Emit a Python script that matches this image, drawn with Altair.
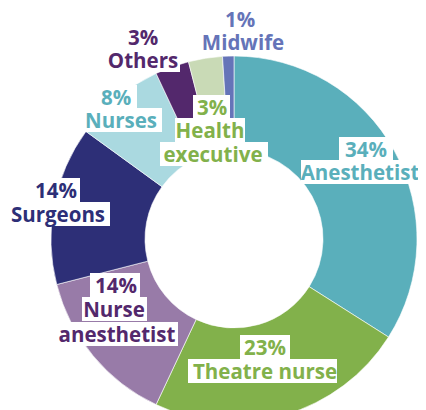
import altair as alt
import pandas as pd

# ---- data ----
categories = ["Anesthetist", "Theatre nurse", "Nurse anesthetist", "Surgeons",
              "Nurses", "Others", "Health executive", "Midwife"]
values = [34, 23, 14, 14, 8, 3, 3, 1]
slice_colors = ["#5AAFBB", "#82B14B", "#987BA8", "#2D2F77",
                "#AAD9E0", "#53286C", "#C9DAB6", "#6574B8"]
text_colors = ["#5AAFBB", "#82B14B", "#53286C", "#2D2F77",
               "#5AAFBB", "#53286C", "#82B14B", "#6574B8"]
name_lines = {
    "Anesthetist": ["Anesthetist"],
    "Theatre nurse": ["Theatre nurse"],
    "Nurse anesthetist": ["Nurse", "anesthetist"],
    "Surgeons": ["Surgeons"],
    "Nurses": ["Nurses"],
    "Others": ["Others"],
    "Health executive": ["Health", "executive"],
    "Midwife": ["Midwife"],
}

# ---- layout (page pixels): per line (center x, baseline y, box left, box right) ----
PAGE_OFF = 8
label_layout = {
    "Anesthetist": [(366, 157, 339, 393), (360, 180, 301, 426)],
    "Theatre nurse": [(265, 355, 240, 290), (265, 379, 188, 337)],
    "Nurse anesthetist": [(116, 293, 90, 140), (114, 317, 82, 147), (117, 342, 58, 178)],
    "Surgeons": [(56, 198, 32, 80), (58, 222, 5, 110)],
    "Nurses": [(116, 105, 97, 137), (121, 128, 85, 162)],
    "Others": [(143, 45, 125, 162), (143, 68, 108, 180)],
    "Health executive": [(212, 115, 193, 230), (210, 138, 175, 245), (213, 162, 160, 268)],
    "Midwife": [(240, 27, 225, 256), (243, 50, 197, 285)],
}
CENTER_X, CENTER_Y = 234, 239
R_OUT, R_IN = 183, 89
W, H = 410, 402

df = pd.DataFrame({"category": categories, "value": values,
                   "idx": list(range(len(categories)))})

rows = []
for cat, v, tc in zip(categories, values, text_colors):
    lines = [f"{v}%"] + name_lines[cat]
    for txt, (cx, bl, x0, x1) in zip(lines, label_layout[cat]):
        rows.append({
            "text": txt, "tcolor": tc,
            "cx": cx - PAGE_OFF, "bl": bl - PAGE_OFF,
            "x0": x0 - PAGE_OFF, "x1": x1 - PAGE_OFF,
            "y0": bl - 20 - PAGE_OFF, "y1": bl + 4 - PAGE_OFF,
        })
lab = pd.DataFrame(rows)

arc = alt.Chart(df).mark_arc(innerRadius=R_IN, outerRadius=R_OUT,
                             stroke="white", strokeWidth=0.6).encode(
    theta=alt.Theta("value:Q", stack=True),
    order=alt.Order("idx:Q"),
    color=alt.Color("category:N", scale=alt.Scale(domain=categories, range=slice_colors),
                    legend=None),
    x=alt.value(CENTER_X - PAGE_OFF),
    y=alt.value(CENTER_Y - PAGE_OFF),
)

boxes = alt.Chart(lab).mark_rect(color="white").encode(
    x=alt.X("x0:Q", scale=None, axis=None),
    x2="x1:Q",
    y=alt.Y("y0:Q", scale=None, axis=None),
    y2="y1:Q",
)

texts = alt.Chart(lab).mark_text(font="Open Sans", fontWeight="bold", fontSize=20.5,
                                 align="center", baseline="alphabetic").encode(
    x=alt.X("cx:Q", scale=None, axis=None),
    y=alt.Y("bl:Q", scale=None, axis=None),
    text="text:N",
    color=alt.Color("tcolor:N", scale=None),
)

chart = alt.layer(arc, boxes, texts).resolve_scale(color="independent").properties(
    width=W, height=H, padding=0,
    autosize=alt.AutoSizeParams(type="none"),
).configure_view(strokeWidth=0)

chart.save("out.html", embed_options={"renderer": "svg", "actions": False})
